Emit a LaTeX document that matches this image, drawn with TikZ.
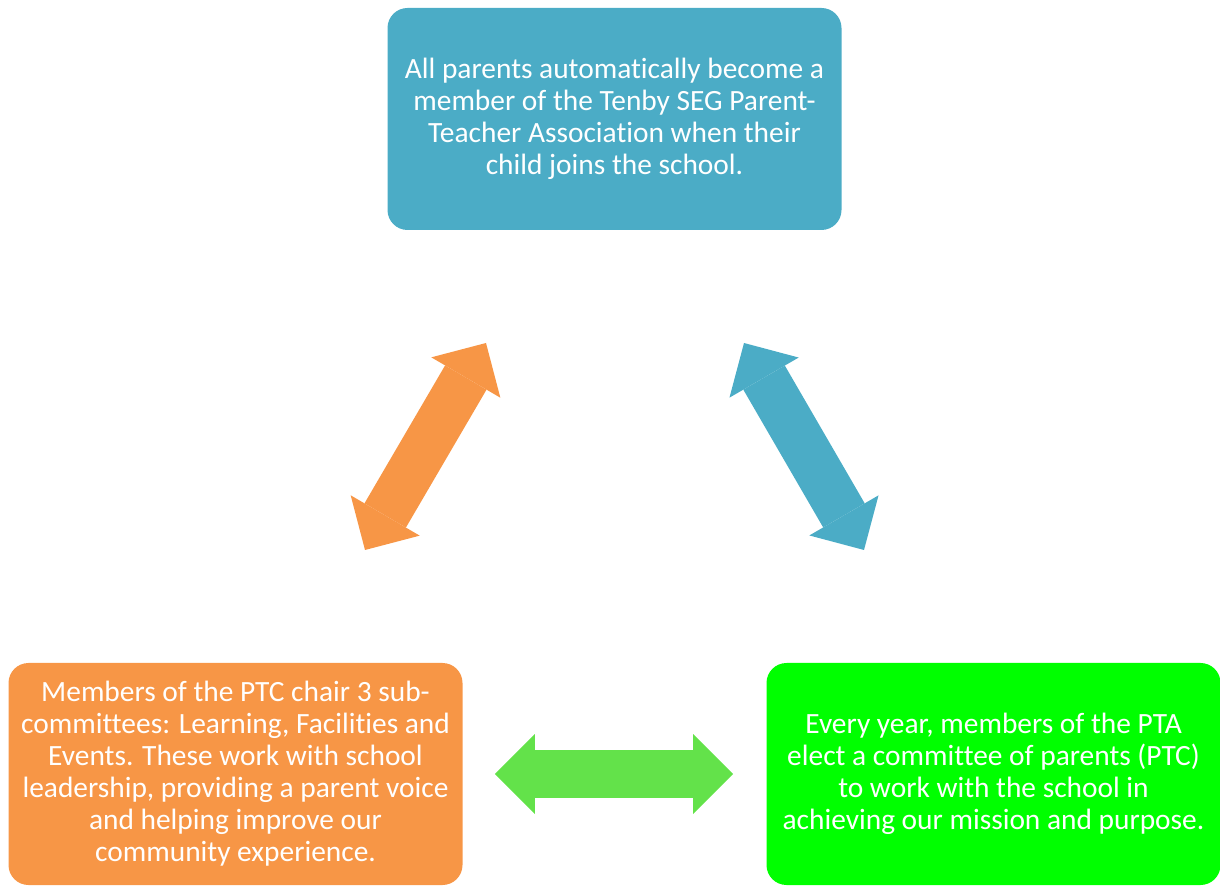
\documentclass[tikz,border=0pt]{standalone}
\usepackage{fontspec}
\setmainfont{Carlito}[Ligatures=NoCommon]
\usepackage{tikz}
\usepackage{xcolor}
\usetikzlibrary{arrows.meta, positioning, calc}
\definecolor{assocteal}{HTML}{4BACC6}
\definecolor{subcomorange}{HTML}{F79646}
\definecolor{committeegreen}{HTML}{00FF00}
\definecolor{linkgreen}{HTML}{63E24A}

\begin{document}
\begin{tikzpicture}[
  x=0.5pt, y=-0.5pt,
  group/.style={
    rectangle,
    rounded corners=10pt,
    minimum width=227pt,
    minimum height=111pt,
    align=center,
    text=white,
    font=\fontsize{14.7}{16}\selectfont,
    inner sep=0pt
  },
  link/.style={
    line width=24pt,
    >={Triangle[length=20pt, width=40pt, line width=0pt]},
    <->
  }
]
\useasboundingbox (0,0) rectangle (1220,886);

% Nodes
\node[group, fill=assocteal]      (assoc)     at (614.5,119) {All parents automatically become a\\member of the Tenby SEG Parent-\\Teacher Association when their\\child joins the school.};
\node[group, fill=subcomorange]   (subcom)    at (235.5,774) {Members of the PTC chair 3 sub-\\committees: Learning, Facilities and\\Events. These work with school\\leadership, providing a parent voice\\and helping improve our\\community experience.};
\node[group, fill=committeegreen] (committee) at (993.5,774) {Every year, members of the PTA\\elect a committee of parents (PTC)\\to work with the school in\\achieving our mission and purpose.};

% Arrow ends
\coordinate (subcom-end)    at (365,550);
\coordinate (assoc-left)    at (486,343);
\coordinate (assoc-right)   at (744,343);
\coordinate (committee-end) at (864,550);

% Links
\draw[link, color=subcomorange] (subcom-end) -- (assoc-left);
\draw[link, color=assocteal] (assoc-right) -- (committee-end);
\draw[link, color=linkgreen, shorten <=16pt, shorten >=16.5pt] (subcom) -- (committee);

\end{tikzpicture}
\end{document}
